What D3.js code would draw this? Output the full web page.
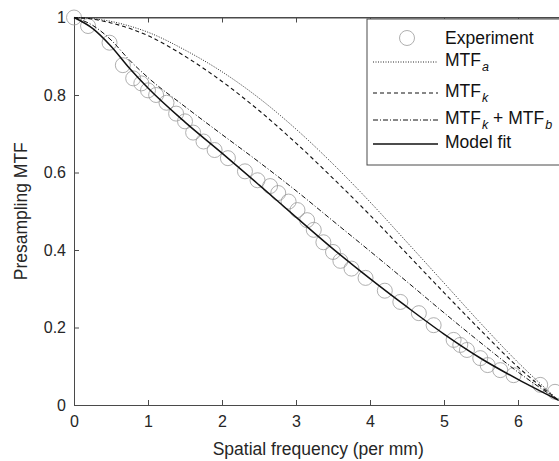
<!DOCTYPE html>
<html><head><meta charset="utf-8">
<script src="https://cdn.jsdelivr.net/npm/d3@7"></script>
<style>html,body{margin:0;padding:0;background:#fff;}svg{display:block;font-family:"Liberation Sans",Arial,sans-serif;}</style>
</head><body><svg id="c" width="559" height="461"></svg>
<script>
const xTicks = [0,1,2,3,4,5,6];
const yTicks = [0,0.2,0.4,0.6,0.8,1];
const yTickLabels = ["0","0.2","0.4","0.6","0.8","1"];
const expF = [0,0.19,0.48,0.66,0.8,0.91,1.0,1.11,1.25,1.38,1.5,1.61,1.75,1.9,2.08,2.31,2.48,2.65,2.76,2.9,3.02,3.15,3.24,3.37,3.5,3.6,3.75,3.94,4.2,4.41,4.66,4.86,5.13,5.22,5.31,5.49,5.59,5.76,5.94,6.3,6.5];
const expV = [1.0,0.978,0.935,0.877,0.843,0.83,0.812,0.8,0.78,0.752,0.732,0.703,0.68,0.658,0.637,0.603,0.58,0.565,0.547,0.525,0.503,0.477,0.452,0.42,0.395,0.372,0.352,0.328,0.295,0.266,0.237,0.206,0.168,0.155,0.142,0.121,0.103,0.09,0.077,0.052,0.034];
const curveF = [0,0.25,0.5,0.75,1.0,1.5,2.0,2.5,3.0,3.5,4.0,4.5,5.0,5.5,6.0,6.55];
const mtfA  = [1,0.997,0.99,0.978,0.962,0.916,0.86,0.792,0.712,0.622,0.524,0.42,0.315,0.21,0.11,0.012];
const mtfK  = [1,0.996,0.986,0.972,0.953,0.90,0.835,0.76,0.676,0.585,0.49,0.39,0.29,0.192,0.098,0.012];
const mtfKB = [1,0.98,0.942,0.89,0.845,0.77,0.698,0.627,0.553,0.475,0.397,0.318,0.238,0.16,0.085,0.012];
const fitV  = [1,0.972,0.926,0.869,0.818,0.73,0.65,0.568,0.485,0.403,0.326,0.253,0.183,0.12,0.066,0.012];
const legendLabels = [["Experiment",null],["MTF","a"],["MTF","k"],["MTF","k"," + MTF","b"],["Model fit",null]];

const svg = d3.select("#c");
const pL=74, pT=17.5, pB=405;
const x = d3.scaleLinear().domain([0,6.6]).range([pL, pL+74*6.6]);
const y = d3.scaleLinear().domain([0,1]).range([pB, pT]);
const axisCol = "#4a4a4a", textCol = "#262626";

svg.append("line").attr("x1",pL).attr("x2",x(6.6)).attr("y1",pT).attr("y2",pT).attr("stroke",axisCol);
svg.append("line").attr("x1",x(6.6)).attr("x2",x(6.6)).attr("y1",pT).attr("y2",pB).attr("stroke",axisCol);

const gx = svg.append("g").attr("transform",`translate(0,${pB})`)
  .call(d3.axisBottom(x).tickValues(xTicks).tickSizeInner(-5).tickSizeOuter(0).tickPadding(11).tickFormat(d3.format("d")));
const gxt = svg.append("g").attr("transform",`translate(0,${pT})`)
  .call(d3.axisTop(x).tickValues(xTicks).tickSizeInner(-5).tickSizeOuter(0).tickFormat(""));
const gy = svg.append("g").attr("transform",`translate(${pL},0)`)
  .call(d3.axisLeft(y).tickValues(yTicks).tickSizeInner(-5).tickSizeOuter(0).tickPadding(8).tickFormat((d,i)=>yTickLabels[i]));
[gx,gxt,gy].forEach(g=>{
  g.select(".domain").attr("stroke",axisCol);
  g.selectAll(".tick line").attr("stroke",axisCol);
  g.selectAll(".tick text").attr("fill",textCol).style("font-size","16px").style("font-family","'Liberation Sans',Arial,sans-serif");
});

const plot = svg.append("g");
plot.selectAll("circle.exp").data(expF).join("circle").attr("class","exp")
  .attr("cx",(d)=>x(d)).attr("cy",(d,i)=>y(expV[i])).attr("r",7.5)
  .attr("fill","none").attr("stroke","#9a9a9a").attr("stroke-width",0.8);

const line = (arr)=>d3.line().x((d,i)=>x(curveF[i])).y(d=>y(d)).curve(d3.curveMonotoneX)(arr);
const styles = [
  {data:mtfA, dash:"1,1.5", w:0.9},
  {data:mtfK, dash:"4,3", w:1.1},
  {data:mtfKB, dash:"5,2,1,2", w:1.0},
  {data:fitV, dash:null, w:1.5}
];
styles.forEach(s=>{
  plot.append("path").attr("d",line(s.data)).attr("fill","none").attr("stroke","#111")
    .attr("stroke-width",s.w).attr("stroke-dasharray",s.dash);
});

const lg = svg.append("g");
lg.append("rect").attr("x",367).attr("y",19).attr("width",220).attr("height",146)
  .attr("fill","#fff").attr("stroke",axisCol).attr("stroke-width",1);
const rowY = [38,62,93,120,144];
lg.append("circle").attr("cx",407).attr("cy",rowY[0]).attr("r",7.5).attr("fill","none").attr("stroke","#9a9a9a").attr("stroke-width",0.8);
styles.forEach((s,i)=>{
  lg.append("line").attr("x1",373).attr("x2",438).attr("y1",rowY[i+1]).attr("y2",rowY[i+1])
    .attr("stroke","#111").attr("stroke-width",s.w).attr("stroke-dasharray",s.dash);
});
legendLabels.forEach((lab,i)=>{
  const t = lg.append("text").attr("x",445).attr("y",rowY[i]+(i===0?6:4)).attr("fill","#111").style("font-size","17.5px");
  lab.forEach((part,j)=>{
    if(part===null) return;
    if(j%2===0) t.append("tspan").text(part).attr("dy", j===0?0:-5);
    else t.append("tspan").text(part).attr("dy",5).style("font-size","12.5px").style("font-style","italic").attr("dx",1);
  });
});

svg.append("text").attr("x",x(3.3)).attr("y",455).attr("text-anchor","middle").attr("fill",textCol).style("font-size","17.5px").text("Spatial frequency (per mm)");
svg.append("text").attr("transform",`translate(27,${(pT+pB)/2}) rotate(-90)`).attr("text-anchor","middle").attr("fill",textCol).style("font-size","17.5px").text("Presampling MTF");
</script></body></html>
